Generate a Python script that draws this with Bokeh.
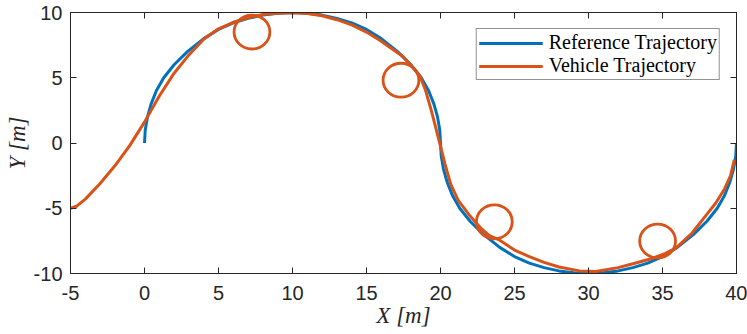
from bokeh.plotting import figure
from bokeh.models import LinearAxis, FixedTicker, Range1d
from bokeh.embed import file_html
from bokeh.resources import INLINE

# Reference trajectory
ref_x = [0, 0.05, 0.2, 0.45, 0.8, 1.3, 2, 2.9, 4, 5, 6, 7, 8, 9, 10,
         11, 12, 13, 14, 15, 16, 17.1, 18, 18.7, 19.2, 19.55, 19.8, 19.95, 20,
         20.05, 20.2, 20.45, 20.8, 21.3, 22, 22.9, 24, 25, 26, 27, 28, 29, 30,
         31, 32, 33, 34, 35, 36, 37.1, 38, 38.7, 39.2, 39.55, 39.8, 39.95, 40]
ref_y = [0, 1, 2, 3, 4, 5, 6, 7, 8, 8.7, 9.2, 9.55, 9.8, 9.95, 10,
         9.95, 9.8, 9.55, 9.2, 8.7, 8, 7, 6, 5, 4, 3, 2, 1, 0,
         -1, -2, -3, -4, -5, -6, -7, -8, -8.7, -9.2, -9.55, -9.8, -9.95, -10,
         -9.95, -9.8, -9.55, -9.2, -8.7, -8, -7, -6, -5, -4, -3, -2, -1, 0]

# Vehicle trajectory
veh_x = [-5, -4.6, -4, -3, -2, -1, 0, 1, 2, 3, 4, 5, 6, 7, 8, 9, 10, 11, 12, 13, 14, 15, 16, 17, 17.5, 18, 18.6,
         19.0, 19.4, 19.9, 20.3, 20.7, 21.2, 22, 22.7, 23.3, 24, 25, 26, 27, 28, 29.4, 30.5, 32, 33, 34.3, 35.2,
         35.9, 37, 37.9, 38.6, 39.2, 39.6, 39.85]
veh_y = [-5, -4.85, -4.3, -3.1, -1.75, -0.2, 1.6, 3.6, 5.35, 6.75, 7.95, 8.75, 9.25, 9.6, 9.85, 9.95, 9.98, 9.93,
         9.75, 9.45, 9.05, 8.5, 7.8, 7.0, 6.6, 5.95, 5.15,
         4.0, 2.4, 0.2, -1.6, -3.2, -4.4, -5.6, -6.5, -7.1, -7.45, -8.2, -8.7, -9.15, -9.5, -9.8, -9.85, -9.55,
         -9.25, -8.85, -8.45, -8.05, -6.9, -5.6, -4.6, -3.5, -2.5, -1.3]

# Loops of the vehicle trajectory
loop_x = [7.26, 17.33, 23.64, 34.67]
loop_y = [8.5, 4.81, -6.04, -7.51]
loop_w = [2.42, 2.42, 2.42, 2.42]
loop_h = [2.6, 2.6, 2.6, 2.6]

x_ticks = [-5, 0, 5, 10, 15, 20, 25, 30, 35, 40]
x_tick_labels = ["-5", "0", "5", "10", "15", "20", "25", "30", "35", "40"]
y_ticks = [-10, -5, 0, 5, 10]
y_tick_labels = ["-10", "-5", "0", "5", "10"]

BLUE = "#0072BD"
ORANGE = "#D95319"
AX = "#262626"

p = figure(width=747, height=334, x_range=Range1d(-5, 40), y_range=Range1d(-10, 10),
           output_backend="svg", toolbar_location=None,
           min_border_left=70, min_border_right=11, min_border_top=12, min_border_bottom=61)
p.grid.visible = False
p.outline_line_color = AX
p.background_fill_color = "white"

p.line(ref_x, ref_y, line_color=BLUE, line_width=3, legend_label="Reference Trajectory")
p.line(veh_x, veh_y, line_color=ORANGE, line_width=3, legend_label="Vehicle Trajectory")
p.ellipse(x=loop_x, y=loop_y, width=loop_w, height=loop_h, fill_color=None,
          line_color=ORANGE, line_width=2.8)

def style(ax, ticks, labels, show_labels=True):
    ax.ticker = FixedTicker(ticks=ticks)
    ax.major_label_overrides = {t: l for t, l in zip(ticks, labels)}
    ax.minor_tick_line_color = None
    ax.major_tick_in = 6
    ax.major_tick_out = 0
    ax.axis_line_color = AX
    ax.major_tick_line_color = AX
    ax.major_label_text_font = "Liberation Sans"
    if show_labels:
        ax.major_label_text_color = AX
        ax.major_label_text_font_size = "20px"
    else:
        ax.major_label_text_color = None
        ax.major_label_text_font_size = "1px"
        ax.major_label_standoff = 0

xa = p.xaxis[0]
ya = p.yaxis[0]
style(xa, x_ticks, x_tick_labels)
style(ya, y_ticks, y_tick_labels)
xa.major_label_standoff = 12
ya.major_label_standoff = 8
xa.axis_label = "X [m]"
ya.axis_label = "Y [m]"
for a in (xa, ya):
    a.axis_label_text_font = "Liberation Serif"
    a.axis_label_text_font_style = "italic"
    a.axis_label_text_font_size = "23px"
    a.axis_label_text_color = AX
xa.axis_label_standoff = 0
ya.axis_label_standoff = 1

top = LinearAxis()
style(top, x_ticks, x_tick_labels, show_labels=False)
p.add_layout(top, "above")
right = LinearAxis()
style(right, y_ticks, y_tick_labels, show_labels=False)
p.add_layout(right, "right")

lg = p.legend[0]
lg.location = "top_right"
lg.margin = 16
lg.border_line_color = AX
lg.border_line_width = 1
lg.background_fill_color = "white"
lg.background_fill_alpha = 1
lg.padding = 2
lg.spacing = 0
lg.glyph_width = 64
lg.glyph_height = 20
lg.label_height = 20
lg.label_standoff = 6
lg.label_text_font = "Liberation Serif"
lg.label_text_font_size = "20px"
lg.label_text_color = "black"

open("out.html", "w").write(file_html(p, INLINE))
